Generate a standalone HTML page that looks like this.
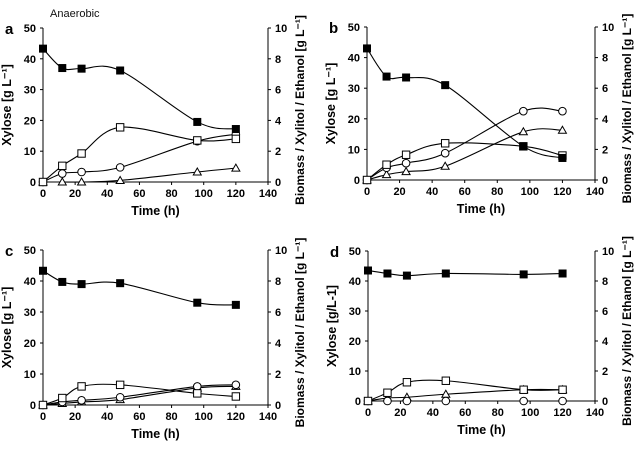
<!DOCTYPE html>
<html><head><meta charset="utf-8">
<style>
body{margin:0;background:#fff;width:638px;height:446px;overflow:hidden}
svg{font-family:"Liberation Sans",Arial,sans-serif}
</style></head>
<body>
<svg id="chart" width="638" height="446" viewBox="0 0 638 446"></svg>
<script>
const times = [0, 12, 24, 48, 96, 120];
const xTicks = [0, 20, 40, 60, 80, 100, 120, 140];
const leftTicks = [0, 10, 20, 30, 40, 50];
const rightTicks = [0, 2, 4, 6, 8, 10];
const xyloseA = [43.3, 37, 36.8, 36.2, 19.5, 17.2];
const squaresA = [0, 1.05, 1.85, 3.55, 2.7, 2.8];
const circlesA = [0, 0.55, 0.65, 0.95, 2.65, 3.1];
const trianglesA = [0, 0, 0, 0.1, 0.65, 0.9];
const xyloseB = [43, 33.8, 33.5, 31, 11, 7.2];
const squaresB = [0, 1, 1.65, 2.4, 2.2, 1.6];
const circlesB = [0, 0.8, 1.1, 1.75, 4.5, 4.5];
const trianglesB = [0, 0.35, 0.55, 0.9, 3.15, 3.25];
const xyloseC = [43.3, 39.7, 39, 39.3, 33, 32.3];
const squaresC = [0, 0.45, 1.2, 1.3, 0.75, 0.55];
const circlesC = [0, 0.2, 0.3, 0.5, 1.2, 1.3];
const trianglesC = [0, 0.1, 0.2, 0.35, 1.1, 1.2];
const xyloseD = [43.5, 42.5, 41.8, 42.5, 42.2, 42.5];
const squaresD = [0, 0.55, 1.25, 1.35, 0.75, 0.75];
const circlesD = [0, 0, 0, 0, 0, 0];
const trianglesD = [0, 0.2, 0.25, 0.45, 0.75, 0.75];

const NS = "http://www.w3.org/2000/svg";
const svg = document.getElementById('chart');
function mk(tag, attrs, parent, text){
  const e = document.createElementNS(NS, tag);
  for (const k in attrs) e.setAttribute(k, attrs[k]);
  if (text !== undefined) e.textContent = text;
  (parent || svg).appendChild(e);
  return e;
}
function smooth(pts){
  let d = `M${pts[0][0]},${pts[0][1]}`;
  for (let i = 0; i < pts.length - 1; i++){
    const p0 = pts[i-1] || pts[i], p1 = pts[i], p2 = pts[i+1], p3 = pts[i+2] || p2;
    const c1 = [p1[0] + (p2[0]-p0[0])/6, p1[1] + (p2[1]-p0[1])/6];
    const c2 = [p2[0] - (p3[0]-p1[0])/6, p2[1] - (p3[1]-p1[1])/6];
    d += ` C${c1[0]},${c1[1]} ${c2[0]},${c2[1]} ${p2[0]},${p2[1]}`;
  }
  return d;
}
const panels = [
  {id:'a', x0:43, x1:268, yT:28, yB:182, ylab:'Xylose [g L\u207B\u00B9]', xy:xyloseA, sq:squaresA, ci:circlesA, tr:trianglesA},
  {id:'b', x0:367, x1:595, yT:27, yB:180, ylab:'Xylose [g L\u207B\u00B9]', xy:xyloseB, sq:squaresB, ci:circlesB, tr:trianglesB},
  {id:'c', x0:43, x1:268, yT:250, yB:405, ylab:'Xylose [g L\u207B\u00B9]', xy:xyloseC, sq:squaresC, ci:circlesC, tr:trianglesC},
  {id:'d', x0:368, x1:595, yT:251, yB:401, ylab:'Xylose [g/L-1]', xy:xyloseD, sq:squaresD, ci:circlesD, tr:trianglesD}
];
mk('text', {x:50, y:17, 'font-size':11, fill:'#111',  }, svg, 'Anaerobic');
panels.forEach(p => {
  const g = mk('g', { });
  const sx = v => p.x0 + (v/140)*(p.x1-p.x0);
  const syL = v => p.yB - (v/50)*(p.yB-p.yT);
  const syR = v => p.yB - (v/10)*(p.yB-p.yT);
  mk('text', {x:p.x0-38, y:p.yT+6, 'font-size':15, 'font-weight':'bold',  }, g, p.id);
  mk('line', {x1:p.x0, y1:p.yT, x2:p.x0, y2:p.yB, stroke:'#000', 'stroke-width':1,  }, g);
  mk('line', {x1:p.x1, y1:p.yT, x2:p.x1, y2:p.yB, stroke:'#000', 'stroke-width':1,  }, g);
  mk('line', {x1:p.x0, y1:p.yB, x2:p.x1, y2:p.yB, stroke:'#000', 'stroke-width':1,  }, g);
  xTicks.forEach(t => {
    mk('line', {x1:sx(t), y1:p.yB, x2:sx(t), y2:p.yB+3, stroke:'#000'}, g);
    mk('text', {x:sx(t), y:p.yB+15, 'font-size':11, 'font-weight':'bold', 'text-anchor':'middle',  }, g, t);
  });
  leftTicks.forEach(t => {
    mk('line', {x1:p.x0-3, y1:syL(t), x2:p.x0, y2:syL(t), stroke:'#000'}, g);
    mk('text', {x:p.x0-7, y:syL(t)+4, 'font-size':11, 'font-weight':'bold', 'text-anchor':'end',  }, g, t);
  });
  rightTicks.forEach(t => {
    mk('line', {x1:p.x1, y1:syR(t), x2:p.x1+3, y2:syR(t), stroke:'#000'}, g);
    mk('text', {x:p.x1+7, y:syR(t)+4, 'font-size':11, 'font-weight':'bold', 'text-anchor':'start',  }, g, t);
  });
  mk('text', {x:(p.x0+p.x1)/2, y:p.yB+33, 'font-size':12.5, 'font-weight':'bold', 'text-anchor':'middle',  }, g, 'Time (h)');
  const lx = p.x0-32, ly = (p.yT+p.yB)/2;
  mk('text', {x:lx, y:ly, 'font-size':12.5, 'font-weight':'bold', 'text-anchor':'middle', transform:`rotate(-90 ${lx} ${ly})`,  }, g, p.ylab);
  const rx = p.x1+36, ry = (p.yT+p.yB)/2 + 5;
  mk('text', {x:rx, y:ry, 'font-size':12, 'font-weight':'bold', 'text-anchor':'middle', transform:`rotate(-90 ${rx} ${ry})`,  }, g, 'Biomass / Xylitol / Ethanol [g L\u207B\u00B9]');

  const series = [
    {vals:p.tr, sy:syR, kind:'tri', name:'triangle-series'},
    {vals:p.ci, sy:syR, kind:'circ', name:'circle-series'},
    {vals:p.sq, sy:syR, kind:'osq', name:'open-square-series'},
    {vals:p.xy, sy:syL, kind:'fsq', name:'xylose-series'}
  ];
  series.forEach(s => {
    const sg = mk('g', { }, g);
    const pts = s.vals.map((v,i) => [sx(times[i]), s.sy(v)]);
    mk('path', {d:smooth(pts), fill:'none', stroke:'#000', 'stroke-width':1.1,  }, sg);
    pts.forEach(([x,y]) => {
      let m;
      if (s.kind === 'fsq') m = mk('rect', {x:x-4, y:y-4, width:8, height:8, fill:'#000'}, sg);
      else if (s.kind === 'osq') m = mk('rect', {x:x-3.7, y:y-3.7, width:7.4, height:7.4, fill:'#fff', stroke:'#000', 'stroke-width':1}, sg);
      else if (s.kind === 'circ') m = mk('circle', {cx:x, cy:y, r:3.8, fill:'#fff', stroke:'#000', 'stroke-width':1}, sg);
      else m = mk('path', {d:`M${x},${y-4} L${x+4},${y+3} L${x-4},${y+3}Z`, fill:'#fff', stroke:'#000', 'stroke-width':1}, sg);
      
      
    });
  });
});
</script>
</body></html>
